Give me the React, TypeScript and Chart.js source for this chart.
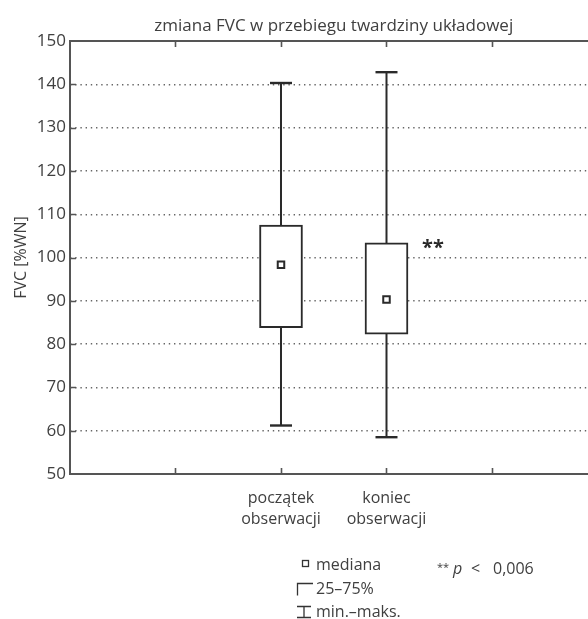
import React, { useEffect, useRef } from "react";
import { Chart, registerables } from "chart.js";

Chart.register(...registerables);

// ---- data ----
const chartTitle = "zmiana FVC w przebiegu twardziny układowej";
const yAxisTitle = "FVC [%WN]";
const categoryLabels: string[][] = [
  ["początek", "obserwacji"],
  ["koniec", "obserwacji"],
];
const categoryPositions = [2, 3];
const axisTickPositions = [1, 2, 3, 4];
const minValues = [61.2, 58.5];
const q1Values = [83.8, 82.3];
const medianValues = [98.3, 90.3];
const q3Values = [107.5, 103.4];
const maxValues = [140.3, 142.8];
const significanceMarks = ["", "**"];
const yMin = 50;
const yMax = 150;
const yStep = 10;
const legendLabels = ["mediana", "25–75%", "min.–maks."];
const pNoteStars = "**";
const pNoteP = "p";
const pNoteLt = "<";
const pNoteValue = "0,006";

const FONT = '"Open Sans", "DejaVu Sans", sans-serif';
const TEXT = "#404040";
const INK = "#2a2a2a";
const AXIS = "#555555";

const framePlugin = {
  id: "frameAndText",
  afterDraw(chart: any) {
    const { ctx, chartArea, scales } = chart;
    const xs = scales.x;
    const ys = scales.y;
    const { left, top, right, bottom } = chartArea;
    ctx.save();
    // frame
    ctx.strokeStyle = AXIS;
    ctx.lineWidth = 2;
    ctx.beginPath();
    ctx.moveTo(right, top);
    ctx.lineTo(left, top);
    ctx.lineTo(left, bottom);
    ctx.lineTo(right, bottom);
    ctx.stroke();
    // inward ticks
    ctx.lineWidth = 1.6;
    ctx.beginPath();
    axisTickPositions.forEach((v) => {
      const px = Math.round(xs.getPixelForValue(v)) + 0.5;
      ctx.moveTo(px, top);
      ctx.lineTo(px, top + 6);
      ctx.moveTo(px, bottom);
      ctx.lineTo(px, bottom - 6);
    });
    for (let v = yMin + yStep; v < yMax; v += yStep) {
      const py = Math.round(ys.getPixelForValue(v)) + 0.5;
      ctx.moveTo(left, py);
      ctx.lineTo(left + 6, py);
    }
    ctx.stroke();

    // title, centred on the frame
    ctx.fillStyle = TEXT;
    ctx.font = `17px ${FONT}`;
    ctx.textAlign = "center";
    ctx.textBaseline = "alphabetic";
    const cx = (xs.getPixelForValue(0) + xs.getPixelForValue(5)) / 2;
    ctx.fillText(chartTitle, cx, 31);

    // significance marks
    ctx.fillStyle = INK;
    ctx.font = `bold 20px ${FONT}`;
    ctx.textAlign = "left";
    categoryPositions.forEach((p, i) => {
      if (!significanceMarks[i]) return;
      const px = xs.getPixelForValue(p) + 21.5 + 14;
      const py = ys.getPixelForValue(q3Values[i]) + 11;
      ctx.fillText(significanceMarks[i], px, py);
    });

    // legend
    ctx.strokeStyle = "#333";
    ctx.lineWidth = 1.3;
    ctx.strokeRect(302.5, 560.5, 6, 6);
    ctx.beginPath();
    ctx.moveTo(313, 583.5);
    ctx.lineTo(297.5, 583.5);
    ctx.lineTo(297.5, 595.5);
    ctx.moveTo(297, 606.5);
    ctx.lineTo(311, 606.5);
    ctx.moveTo(304, 606.5);
    ctx.lineTo(304, 617.5);
    ctx.moveTo(297, 617.5);
    ctx.lineTo(311, 617.5);
    ctx.stroke();
    ctx.fillStyle = TEXT;
    ctx.font = `16px ${FONT}`;
    ctx.textAlign = "left";
    ctx.fillText(legendLabels[0], 316, 570);
    ctx.fillText(legendLabels[1], 316, 594);
    ctx.fillText(legendLabels[2], 316, 617);

    ctx.font = `11px ${FONT}`;
    ctx.fillText(pNoteStars, 437, 571);
    ctx.font = `italic 16px ${FONT}`;
    ctx.fillText(pNoteP, 453, 574);
    ctx.font = `16px ${FONT}`;
    ctx.fillText(pNoteLt, 471, 574);
    ctx.fillText(pNoteValue, 493, 574);
    ctx.restore();
  },
};

export default function App() {
  const ref = useRef<HTMLCanvasElement | null>(null);
  useEffect(() => {
    document.body.style.margin = "0";
    const canvas = ref.current!;
    const whiskers = categoryPositions.map((p, i) => ({
      type: "line" as const,
      data: [
        { x: p, y: minValues[i] },
        { x: p, y: maxValues[i] },
      ],
      borderColor: INK,
      borderWidth: 2,
      pointStyle: "line",
      pointRadius: 11,
      pointBorderWidth: 2.4,
      pointBorderColor: INK,
      pointBackgroundColor: INK,
      fill: false,
      showLine: true,
      order: 3,
    }));
    const chart = new Chart(canvas, {
      type: "scatter",
      data: {
        datasets: [
          ...whiskers,
          {
            type: "bar",
            data: categoryPositions.map((p, i) => ({ x: p, y: [q1Values[i], q3Values[i]] })),
            backgroundColor: "#ffffff",
            borderColor: INK,
            borderWidth: 2,
            borderSkipped: false,
            barThickness: 43,
            order: 2,
          },
          {
            type: "scatter",
            data: categoryPositions.map((p, i) => ({ x: p, y: medianValues[i] })),
            pointStyle: "rect",
            pointRadius: 4.6,
            pointBorderWidth: 2,
            borderColor: INK,
            backgroundColor: "#ffffff",
            order: 1,
          },
        ] as any,
      },
      options: {
        animation: false,
        responsive: false,
        maintainAspectRatio: false,
        layout: { autoPadding: false, padding: { top: 41, left: 0, right: 0, bottom: 0 } },
        plugins: {
          legend: { display: false },
          tooltip: { enabled: false },
          title: { display: false },
        },
        scales: {
          x: {
            type: "linear",
            min: 0,
            max: 4.91,
            offset: false,
            grid: { display: false },
            border: { display: false },
            afterBuildTicks: (s: any) => {
              s.ticks = axisTickPositions.map((v) => ({ value: v }));
            },
            afterFit: (s: any) => {
              s.height = 145;
            },
            ticks: {
              autoSkip: false,
              maxRotation: 0,
              padding: 6,
              color: TEXT,
              font: { family: FONT, size: 16, lineHeight: 1.3 },
              callback: (v: any) => {
                const idx = categoryPositions.indexOf(Number(v));
                return idx >= 0 ? categoryLabels[idx] : "";
              },
            },
          },
          y: {
            min: yMin,
            max: yMax,
            afterFit: (s: any) => {
              s.width = 70;
            },
            grid: { color: "#666", lineWidth: 1.4, drawTicks: false },
            border: { display: false, dash: [1.4, 3.8] },
            ticks: {
              stepSize: yStep,
              padding: 4,
              color: TEXT,
              font: { family: FONT, size: 17 },
            },
            title: {
              display: true,
              text: yAxisTitle,
              color: TEXT,
              font: { family: FONT, size: 16 },
              padding: { top: 12, bottom: 0 },
            },
          },
        },
      } as any,
      plugins: [framePlugin],
    });
    return () => chart.destroy();
  }, []);
  return <canvas ref={ref} width={588} height={619} style={{ display: "block" }} />;
}
